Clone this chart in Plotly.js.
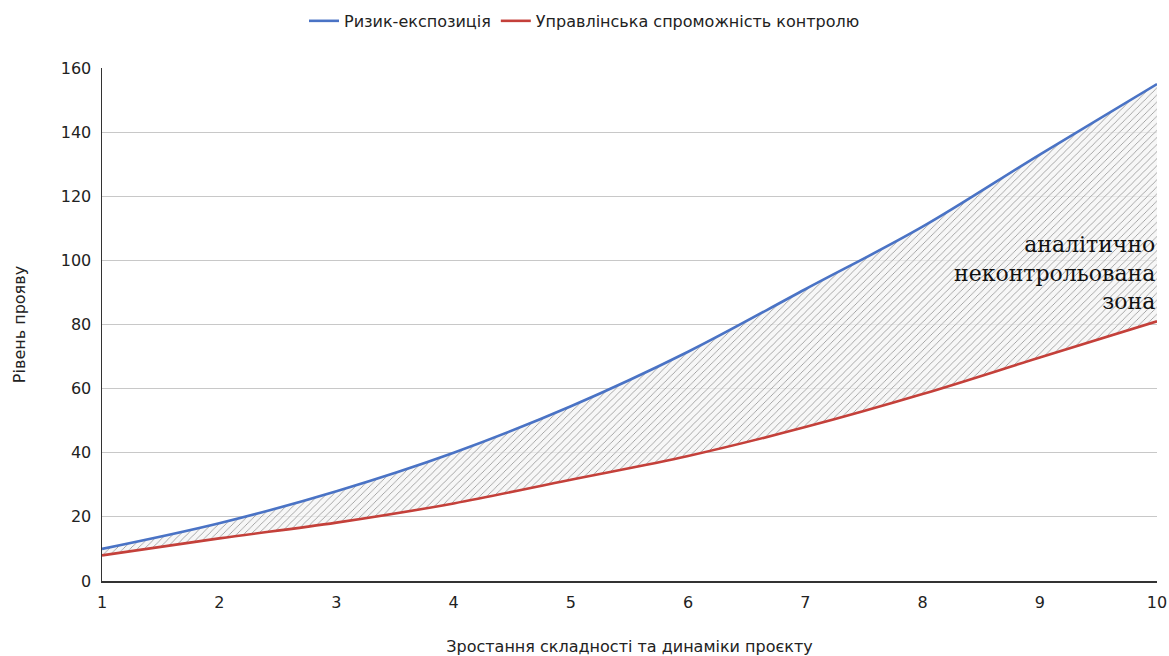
<!DOCTYPE html>
<html>
<head>
<meta charset="utf-8">
<script src="https://cdn.plot.ly/plotly-3.0.1.min.js"></script>
<style>html,body{margin:0;padding:0;background:#fff;}#chart{width:1169px;height:656px;}</style>
</head>
<body>
<div id="chart"></div>
<script>
const xValues = [1, 2, 3, 4, 5, 6, 7, 8, 9, 10];
const riskExposure = [10, 18, 28, 40, 54.5, 71.5, 91, 110.5, 133, 155];
const controlCapacity = [8, 13.3, 18.2, 24.2, 31.6, 39, 48, 58.3, 69.7, 81];
const seriesNames = ['Ризик-експозиція', 'Управлінська спроможність контролю'];
const yTicks = [0, 20, 40, 60, 80, 100, 120, 140, 160];
const xTitle = 'Зростання складності та динаміки проєкту';
const yTitle = 'Рівень прояву';
const zoneLabel = 'аналітично<br>неконтрольована<br>зона';

const blue = '#4a73c5';
const red = '#c4403a';
const sans = 'DejaVu Sans, Liberation Sans, Arial, sans-serif';

const traces = [
  {x: xValues, y: controlCapacity, mode: 'lines', line: {width: 0, shape: 'spline'},
   showlegend: false, hoverinfo: 'skip'},
  {x: xValues, y: riskExposure, mode: 'lines', line: {width: 0, shape: 'spline'},
   fill: 'tonexty', fillcolor: 'rgba(244,244,244,0.7)',
   fillpattern: {shape: '/', fgcolor: '#9a9a9a', bgcolor: 'rgba(244,244,244,0.7)', size: 5, solidity: 0.17},
   showlegend: false, hoverinfo: 'skip'},
  {x: xValues, y: riskExposure, name: seriesNames[0], mode: 'lines',
   line: {color: blue, width: 2.6, shape: 'spline'}, legendrank: 1},
  {x: xValues, y: controlCapacity, name: seriesNames[1], mode: 'lines',
   line: {color: red, width: 2.6, shape: 'spline'}, legendrank: 2}
];

const layout = {
  width: 1169, height: 656,
  margin: {l: 102, r: 12, t: 68, b: 75},
  paper_bgcolor: '#fff', plot_bgcolor: '#fff',
  font: {family: sans, size: 16, color: '#222'},
  showlegend: true,
  legend: {orientation: 'h', xref: 'container', yref: 'container', x: 0.5, xanchor: 'center',
           y: 0.994, yanchor: 'top', font: {family: sans, size: 16, color: '#222'},
           traceorder: 'normal'},
  xaxis: {range: [1, 10], tickvals: xValues, ticktext: xValues.map(String),
          showgrid: false, zeroline: false, showline: true, linecolor: '#333', linewidth: 1.5,
          ticks: '', ticklabelstandoff: 6, tickfont: {family: sans, size: 16, color: '#222'},
          title: {text: xTitle, font: {family: sans, size: 16, color: '#222'}, standoff: 38}},
  yaxis: {range: [0, 160], tickvals: yTicks, showgrid: true, gridcolor: '#c8c8c8', gridwidth: 1,
          zeroline: false, showline: true, linecolor: '#333', linewidth: 1.5,
          ticks: '', ticklabelstandoff: 6, tickfont: {family: sans, size: 16, color: '#222'},
          title: {text: yTitle, font: {family: sans, size: 16, color: '#222'}, standoff: 31}},
  annotations: [{x: 10, y: 96, xref: 'x', yref: 'y', xanchor: 'right', yanchor: 'middle', align: 'right',
                 showarrow: false, text: zoneLabel,
                 font: {family: 'DejaVu Serif, Liberation Serif, serif', size: 22, color: '#111'}}]
};

Plotly.newPlot('chart', traces, layout, {displayModeBar: false, staticPlot: true});
</script>
</body>
</html>
